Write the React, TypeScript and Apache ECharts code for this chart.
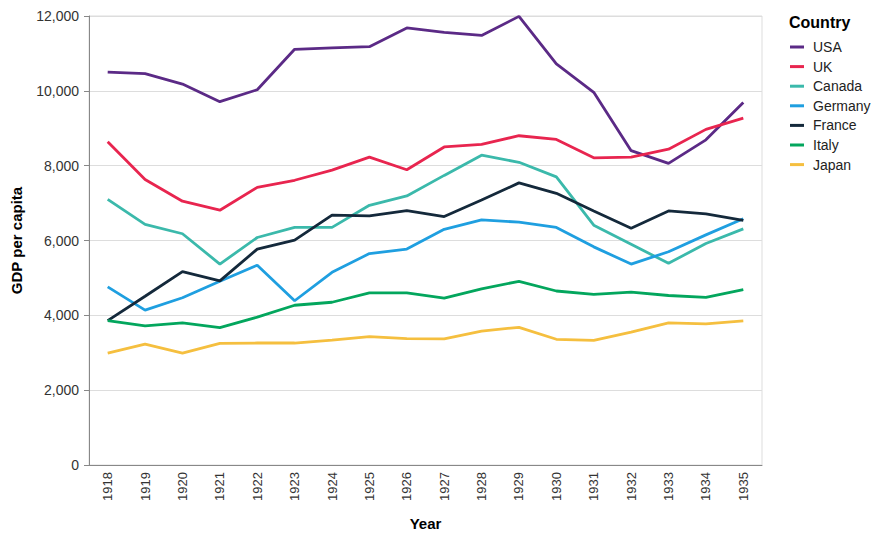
import React, { useEffect, useRef } from "react";
import * as echarts from "echarts";

const years = ["1918","1919","1920","1921","1922","1923","1924","1925","1926","1927","1928","1929","1930","1931","1932","1933","1934","1935"];
const countries = ["USA", "UK", "Canada", "Germany", "France", "Italy", "Japan"];
const usa = [10500, 10460, 10180, 9710, 10030, 11110, 11150, 11180, 11680, 11560, 11480, 11990, 10720, 9960, 8400, 8060, 8690, 9690];
const uk = [8640, 7630, 7050, 6810, 7420, 7610, 7880, 8230, 7890, 8500, 8570, 8800, 8700, 8210, 8230, 8440, 8970, 9270];
const canada = [7100, 6430, 6180, 5370, 6080, 6350, 6350, 6940, 7190, 7740, 8280, 8090, 7700, 6410, 5900, 5390, 5920, 6310];
const germany = [4760, 4140, 4470, 4910, 5340, 4390, 5150, 5650, 5770, 6300, 6550, 6490, 6350, 5830, 5370, 5700, 6150, 6580];
const france = [3860, 4510, 5170, 4920, 5770, 6010, 6680, 6660, 6800, 6640, 7080, 7540, 7260, 6790, 6330, 6790, 6710, 6540];
const italy = [3860, 3720, 3800, 3670, 3950, 4270, 4350, 4600, 4600, 4460, 4710, 4910, 4650, 4560, 4620, 4530, 4480, 4690];
const japan = [2990, 3230, 2990, 3250, 3260, 3260, 3340, 3430, 3380, 3370, 3580, 3680, 3360, 3330, 3550, 3800, 3770, 3850];
const seriesValues = [usa, uk, canada, germany, france, italy, japan];
const colors = ["#5b2a86", "#e8254f", "#3bb9ab", "#1f9fe0", "#14293b", "#03a65d", "#f5bf3f"];

export default function App() {
  const ref = useRef<HTMLDivElement>(null);
  useEffect(() => {
    if (!ref.current) return;
    const chart = echarts.init(ref.current, undefined, { renderer: "svg" });
    const font = "Liberation Sans, Arial, sans-serif";
    chart.setOption({
      animation: false,
      textStyle: { fontFamily: font },
      title: {
        text: "Country",
        left: 789,
        top: 14,
        padding: 0,
        textStyle: { fontSize: 16, fontWeight: "bold", color: "#000", fontFamily: font },
      },
      legend: {
        orient: "vertical",
        left: 790,
        top: 39,
        padding: 0,
        icon: "rect",
        itemWidth: 14,
        itemHeight: 3,
        itemGap: 3.6,
        data: countries,
        textStyle: { fontSize: 14, color: "#222", lineHeight: 16, padding: [0, 0, 0, 4], fontFamily: font },
      },
      grid: {
        left: 89, right: 121, top: 16, bottom: 75,
        containLabel: false, outerBoundsMode: "none",
        show: true, borderColor: "#ddd", borderWidth: 1,
      },
      xAxis: {
        type: "category",
        data: years,
        boundaryGap: true,
        name: "Year",
        nameLocation: "middle",
        nameGap: 51,
        nameTextStyle: { fontSize: 15, fontWeight: "bold", color: "#000", fontFamily: font },
        axisLine: { lineStyle: { color: "#888" } },
        axisTick: { alignWithLabel: true, length: 5, lineStyle: { color: "#888" } },
        axisLabel: { rotate: 90, fontSize: 13, color: "#333", margin: 7, fontFamily: font },
      },
      yAxis: {
        type: "value",
        min: 0,
        max: 12000,
        interval: 2000,
        name: "GDP per capita",
        nameLocation: "middle",
        nameGap: 65,
        nameTextStyle: { fontSize: 15, fontWeight: "bold", color: "#000", fontFamily: font },
        axisLine: { show: true, lineStyle: { color: "#888" } },
        axisTick: { show: true, length: 5, lineStyle: { color: "#888" } },
        axisLabel: { fontSize: 14, color: "#333", margin: 10, fontFamily: font },
        splitLine: { lineStyle: { color: "#ddd" } },
      },
      series: countries.map((c, i) => ({
        name: c,
        type: "line",
        data: seriesValues[i],
        symbol: "none",
        color: colors[i],
        lineStyle: { width: 2.8, color: colors[i] },
      })),
    });
    return () => chart.dispose();
  }, []);
  return <div ref={ref} style={{ position: "absolute", left: 0, top: 0, width: 883, height: 540 }} />;
}
